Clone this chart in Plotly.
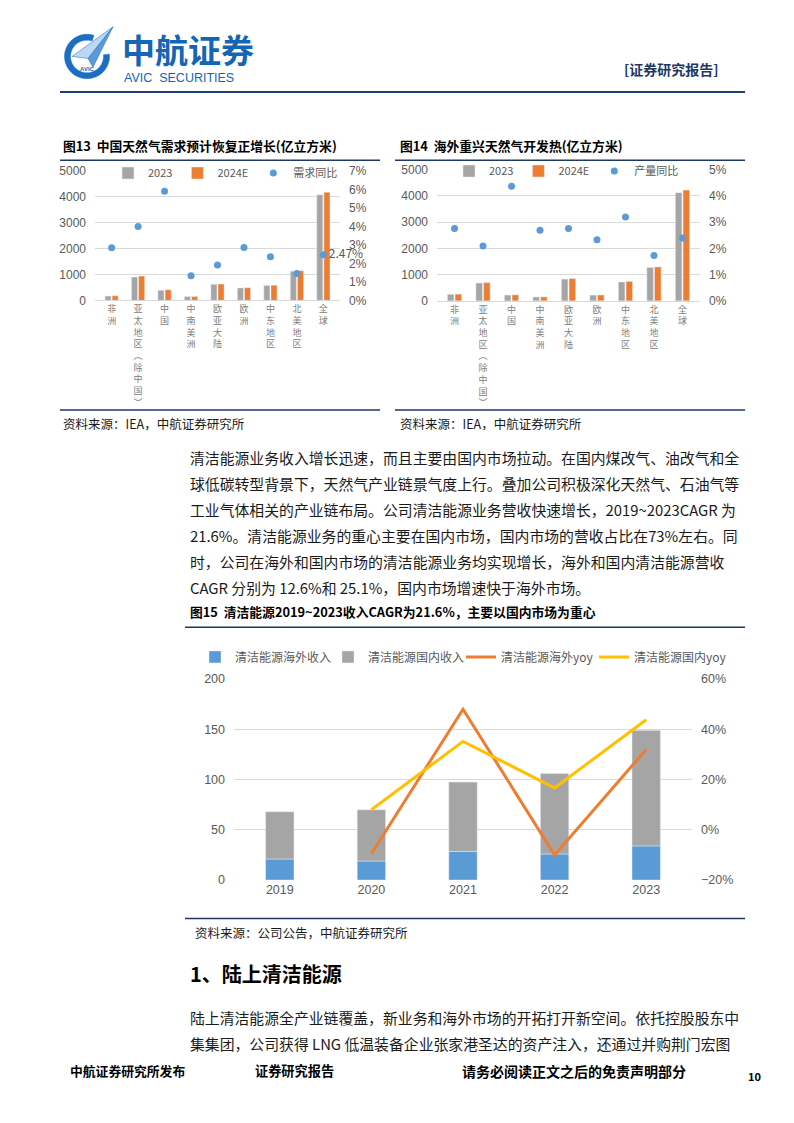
import math
import plotly.graph_objects as go

W, H = 794, 1123
OFF = 8  # the page body adds an 8px margin around the plot div

# ---- Figure 13 / 14 data (亿立方米) ----
regions = ["非洲", "亚太地区（除中国）", "中国", "中南美洲", "欧亚大陆", "欧洲", "中东地区", "北美地区", "全球"]
demand_2023 = [170, 900, 390, 150, 620, 480, 580, 1130, 4080]
demand_2024e = [180, 940, 410, 155, 630, 490, 590, 1150, 4180]
demand_yoy = [0.0285, 0.040, 0.059, 0.0134, 0.0191, 0.0286, 0.0236, 0.0146, 0.0247]

output_2023 = [250, 680, 220, 150, 830, 220, 720, 1270, 4120]
output_2024e = [257, 695, 230, 154, 853, 225, 743, 1292, 4220]
output_yoy = [0.0276, 0.0209, 0.0436, 0.0269, 0.0276, 0.0233, 0.0319, 0.0173, 0.0239]

# ---- Figure 15 data ----
years = ["2019", "2020", "2021", "2022", "2023"]
overseas_rev = [21, 19, 28.5, 26, 34]
domestic_rev = [47, 51, 69, 80, 115]
overseas_yoy = [None, -0.095, 0.48, -0.10, 0.32]
domestic_yoy = [None, 0.08, 0.352, 0.167, 0.438]

GRAY, ORANGE, BLUE, YELLOW = "#A5A5A5", "#ED7D31", "#5B9BD5", "#FFC000"
TXT = "#595959"
NAVY = "#1F3864"
LOGO = "#1A6FC0"
CJK = "Noto Sans CJK SC"


def px(x):
    return (x - OFF) / W


def py(y):
    return 1 - (y - OFF) / H


def vertical(label):
    label = label.replace("（", "︵").replace("）", "︶")
    return "<br>".join(label)


fig = go.Figure()

# Figure 13
fig.add_trace(go.Bar(x=regions, y=demand_2023, name="2023", marker_color=GRAY,
                     offset=-0.25, width=0.23, xaxis="x", yaxis="y", legend="legend"))
fig.add_trace(go.Bar(x=regions, y=demand_2024e, name="2024E", marker_color=ORANGE,
                     offset=0.02, width=0.23, xaxis="x", yaxis="y", legend="legend"))
fig.add_trace(go.Scatter(x=regions, y=demand_yoy, name="需求同比", mode="markers+text",
                         marker=dict(color=BLUE, size=7), cliponaxis=False,
                         text=[""] * (len(demand_yoy) - 1) + [f"{demand_yoy[-1]:.2%}"],
                         textposition="middle right", textfont=dict(size=12, color=TXT),
                         xaxis="x", yaxis="y2", legend="legend"))

# Figure 14
fig.add_trace(go.Bar(x=regions, y=output_2023, name="2023", marker_color=GRAY,
                     offset=-0.25, width=0.23, xaxis="x2", yaxis="y3", legend="legend2"))
fig.add_trace(go.Bar(x=regions, y=output_2024e, name="2024E", marker_color=ORANGE,
                     offset=0.02, width=0.23, xaxis="x2", yaxis="y3", legend="legend2"))
fig.add_trace(go.Scatter(x=regions, y=output_yoy, name="产量同比", mode="markers",
                         marker=dict(color=BLUE, size=7),
                         xaxis="x2", yaxis="y4", legend="legend2"))

# Figure 15
fig.add_trace(go.Bar(x=years, y=overseas_rev, name="清洁能源海外收入", marker_color=BLUE,
                     offset=-0.155, width=0.31, xaxis="x3", yaxis="y5", legend="legend3"))
fig.add_trace(go.Bar(x=years, y=domestic_rev, base=overseas_rev, name="清洁能源国内收入",
                     marker_color=GRAY, offset=-0.155, width=0.31,
                     xaxis="x3", yaxis="y5", legend="legend3"))
fig.add_trace(go.Scatter(x=years, y=overseas_yoy, name="清洁能源海外yoy", mode="lines",
                         line=dict(color=ORANGE, width=3), xaxis="x3", yaxis="y6", legend="legend3"))
fig.add_trace(go.Scatter(x=years, y=domestic_yoy, name="清洁能源国内yoy", mode="lines",
                         line=dict(color=YELLOW, width=3), xaxis="x3", yaxis="y6", legend="legend3"))

cat_axis = dict(type="category", tickvals=regions, ticktext=[vertical(r) for r in regions],
                tickfont=dict(family=CJK, size=9, color="#808080"), showgrid=False,
                showline=True, linecolor="#D9D9D9", ticks="")
num_axis = dict(gridcolor="#D9D9D9", tickfont=dict(family="Liberation Sans", size=12, color=TXT),
                zeroline=False, showline=False, ticks="", ticklabelstandoff=8)
pct_axis = dict(side="right", showgrid=False, zeroline=False, tickformat=".0%",
                tickfont=dict(family="Liberation Sans", size=12, color=TXT), ticks="",
                ticklabelstandoff=8)

legend_base = dict(orientation="h", xanchor="left", yanchor="middle", bgcolor="rgba(0,0,0,0)",
                   font=dict(family=CJK, size=11, color=TXT), itemwidth=30)

fig.update_layout(
    width=W, height=H, margin=dict(l=0, r=0, t=0, b=0),
    paper_bgcolor="white", plot_bgcolor="white", barmode="overlay",
    font=dict(family=CJK, color=TXT),
    xaxis=dict(cat_axis, domain=[px(95), px(340)], anchor="y"),
    yaxis=dict(num_axis, domain=[py(297), py(166)], range=[0, 5000], dtick=1000, anchor="x"),
    yaxis2=dict(pct_axis, overlaying="y", anchor="x", range=[0, 0.07], dtick=0.01),
    xaxis2=dict(cat_axis, domain=[px(437), px(700)], anchor="y3"),
    yaxis3=dict(num_axis, domain=[py(297.5), py(164.5)], range=[0, 5000], dtick=1000, anchor="x2"),
    yaxis4=dict(pct_axis, overlaying="y3", anchor="x2", range=[0, 0.05], dtick=0.01),
    xaxis3=dict(type="category", domain=[px(234), px(692)], anchor="y5", showgrid=False,
                showline=False, ticks="", tickfont=dict(family="Liberation Sans", size=12.5, color=TXT)),
    yaxis5=dict(num_axis, domain=[py(884), py(680.5)], range=[0, 200], dtick=50, anchor="x3",
                tickfont=dict(family="Liberation Sans", size=12.5, color=TXT)),
    yaxis6=dict(pct_axis, overlaying="y5", anchor="x3", range=[-0.2, 0.6], dtick=0.2,
                tickfont=dict(family="Liberation Sans", size=12.5, color=TXT)),
    legend=dict(legend_base, x=px(108), y=py(168)),
    legend2=dict(legend_base, x=px(449), y=py(166)),
    legend3=dict(legend_base, x=px(195), y=py(658), entrywidthmode="pixels", entrywidth=88,
                 font=dict(family=CJK, size=12, color=TXT)),
    showlegend=True,
)

# ---- page furniture ----
shapes = []


def hline(x0, x1, y, color=NAVY, width=1.5):
    shapes.append(dict(type="line", xref="paper", yref="paper", x0=px(x0), x1=px(x1),
                       y0=py(y), y1=py(y), line=dict(color=color, width=width)))


def poly(points, fill, line_color=None):
    path = "M" + " L".join(f"{px(x):.5f},{py(y):.5f}" for x, y in points) + " Z"
    shapes.append(dict(type="path", xref="paper", yref="paper", path=path, fillcolor=fill,
                       line=dict(color=line_color or fill, width=0.5)))


hline(60, 745, 86, "#1F3F7A", 2)
hline(60, 380, 155)
hline(60, 380, 408)
hline(395, 745, 155)
hline(395, 745, 408)
hline(185, 745, 628)
hline(185, 745, 923)

# logo mark: open ring + paper plane
cx, cy, r_out, r_in = 87, 50, 22.5, 16.5
angles = [math.radians(a) for a in range(72, 72 + 300, 6)]
outer = [(cx + r_out * math.cos(a), cy - r_out * math.sin(a)) for a in angles]
inner = [(cx + r_in * math.cos(a), cy - r_in * math.sin(a)) for a in reversed(angles)]
poly(outer + inner, LOGO)
poly([(72, 50), (113, 20), (88, 52)], "#BCD7F2", LOGO)
poly([(88, 52), (113, 20), (93, 61)], "#5B9BD5", LOGO)
fig.update_layout(shapes=shapes)

annotations = []


def text(x, y, s, size=14.85, color="#1A1A1A", bold=False, family=CJK, anchor="left"):
    if bold:
        s = f"<b>{s}</b>"
    annotations.append(dict(x=px(x), y=py(y), xref="paper", yref="paper", text=s,
                            showarrow=False, xanchor=anchor, yanchor="middle",
                            font=dict(family=family, size=size, color=color)))


text(120, 42, "中航证券", size=33, color="#1565B5", bold=True)
text(122, 72, "AVIC  SECURITIES", size=12.5, color="#1565B5", family="Liberation Sans")
text(87, 63, "<b>AVIC</b>", size=6, color=LOGO, family="Liberation Sans", anchor="center")
text(622, 63, "[证券研究报告]", size=14, color=NAVY, bold=True)

text(61, 140, "图13  中国天然气需求预计恢复正增长(亿立方米)", size=12.8, color="#000", bold=True)
text(398, 140, "图14  海外重兴天然气开发热(亿立方米)", size=12.8, color="#000", bold=True)
text(61, 422, "资料来源：IEA，中航证券研究所", size=12.5)
text(398, 422, "资料来源：IEA，中航证券研究所", size=12.5)

body = [
    "清洁能源业务收入增长迅速，而且主要由国内市场拉动。在国内煤改气、油改气和全",
    "球低碳转型背景下，天然气产业链景气度上行。叠加公司积极深化天然气、石油气等",
    "工业气体相关的产业链布局。公司清洁能源业务营收快速增长，2019~2023CAGR 为",
    "21.6%。清洁能源业务的重心主要在国内市场，国内市场的营收占比在73%左右。同",
    "时，公司在海外和国内市场的清洁能源业务均实现增长，海外和国内清洁能源营收",
    "CAGR 分别为 12.6%和 25.1%，国内市场增速快于海外市场。",
]
for i, line in enumerate(body):
    text(188, 456 + i * 26.4, line)

text(188, 612, "图15  清洁能源2019~2023收入CAGR为21.6%，主要以国内市场为重心", size=12.8,
     color="#000", bold=True)
text(193, 937, "资料来源：公司公告，中航证券研究所", size=12.5)

text(188, 979, "1、陆上清洁能源", size=20, color="#000", bold=True)
text(188, 1023, "陆上清洁能源全产业链覆盖，新业务和海外市场的开拓打开新空间。依托控股股东中")
text(188, 1049, "集集团，公司获得 LNG 低温装备企业张家港圣达的资产注入，还通过并购荆门宏图")

text(68, 1077, "中航证券研究所发布", size=12.8, color="#000", bold=True)
text(253, 1077, "证券研究报告", size=13.2, color="#000", bold=True)
text(460, 1077, "请务必阅读正文之后的免责声明部分", size=14, color="#000", bold=True)
text(746, 1082, "10", size=11, color="#000", bold=True)

fig.update_layout(annotations=annotations)

fig.write_html("out.html")
